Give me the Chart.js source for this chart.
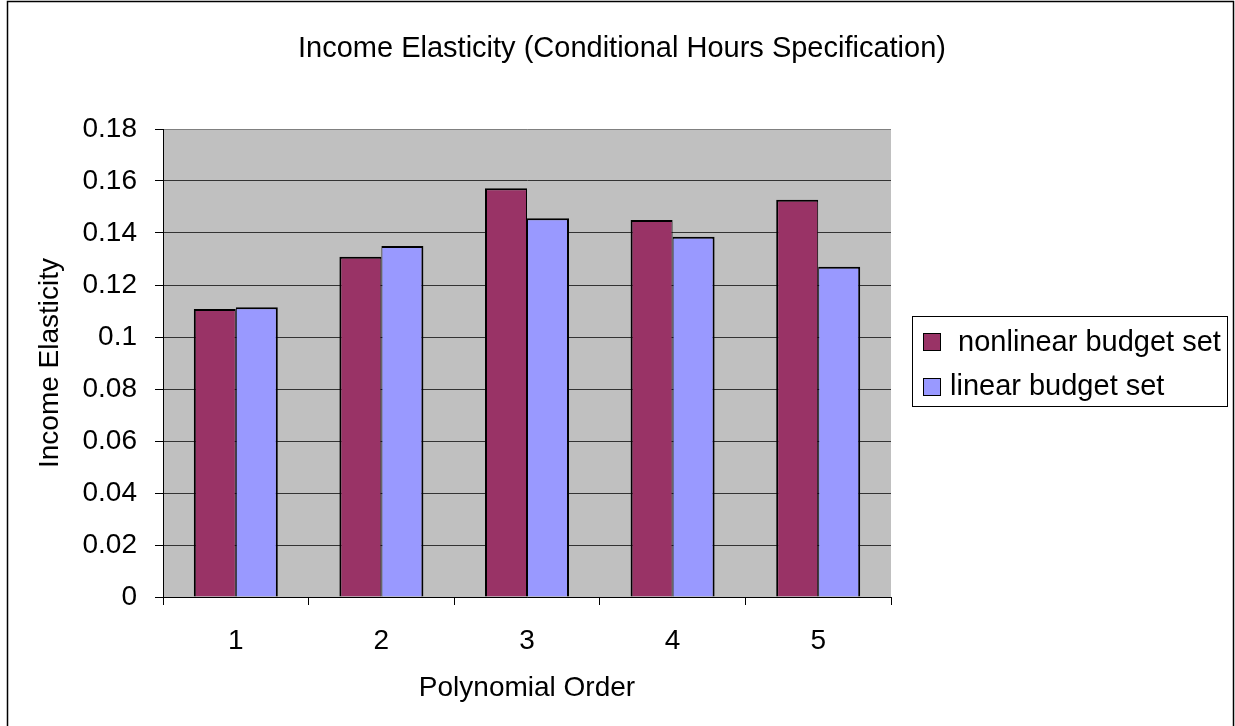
<!DOCTYPE html>
<html>
<head>
<meta charset="utf-8">
<title>Income Elasticity (Conditional Hours Specification)</title>
<script src="https://cdn.jsdelivr.net/npm/chart.js@4/dist/chart.umd.min.js"></script>
<style>
  html, body { margin: 0; padding: 0; background: #ffffff; }
  #wrap { width: 1235px; height: 726px; }
</style>
</head>
<body>
<div id="wrap"><canvas id="chart" width="1235" height="726"></canvas></div>
<script>
// Chart text
const chartTitle = 'Income Elasticity (Conditional Hours Specification)';
const xTitle = 'Polynomial Order';
const yTitle = 'Income Elasticity';

// Categories (polynomial order)
const categories = ['1', '2', '3', '4', '5'];

// Series
const seriesNames = [' nonlinear budget set', 'linear budget set'];
const nonlinearValues = [0.1108, 0.1309, 0.1572, 0.1450, 0.1528];
const linearValues = [0.1114, 0.1350, 0.1457, 0.1386, 0.1270];

// Value axis ticks
const yTickValues = [0, 0.02, 0.04, 0.06, 0.08, 0.1, 0.12, 0.14, 0.16, 0.18];
const yTickLabels = ['0', '0.02', '0.04', '0.06', '0.08', '0.1', '0.12', '0.14', '0.16', '0.18'];

const FONT = "'Liberation Sans', Arial, sans-serif";
const FONT_SIZE = 28;
const BIG_FONT_SIZE = 29;
const colors = ['#993366', '#9999FF'];

// Gray plot area, outer frame, title and legend box
const decorations = {
  id: 'decorations',
  beforeDraw(chart) {
    const { ctx, chartArea: a } = chart;
    ctx.save();
    ctx.fillStyle = '#ffffff';
    ctx.fillRect(0, 0, chart.width, chart.height);
    ctx.fillStyle = '#C0C0C0';
    ctx.fillRect(a.left, a.top, a.right - a.left, a.bottom - a.top);
    ctx.restore();
  },
  afterDraw(chart) {
    const { ctx } = chart;
    ctx.save();
    // outer frame
    ctx.strokeStyle = '#000000';
    ctx.lineWidth = 1.5;
    ctx.strokeRect(7.5, 1.5, 1226, 760);

    // title
    ctx.fillStyle = '#000000';
    ctx.font = BIG_FONT_SIZE + 'px ' + FONT;
    ctx.textAlign = 'center';
    ctx.textBaseline = 'middle';
    ctx.fillText(chartTitle, 622, 49);

    // legend
    ctx.lineWidth = 1;
    ctx.strokeStyle = '#000000';
    ctx.strokeRect(912.5, 316.5, 315, 90);
    ctx.textAlign = 'left';
    ctx.textBaseline = 'alphabetic';
    const rows = [{ sy: 333, ty: 351 }, { sy: 378, ty: 395 }];
    chart.data.datasets.forEach((ds, i) => {
      const r = rows[i];
      ctx.fillStyle = ds.backgroundColor;
      ctx.fillRect(923, r.sy, 18, 18);
      ctx.strokeRect(923.5, r.sy + 0.5, 17, 17);
      ctx.fillStyle = '#000000';
      ctx.fillText(ds.label, 950, r.ty);
    });
    ctx.restore();
  }
};

new Chart(document.getElementById('chart'), {
  type: 'bar',
  data: {
    labels: categories,
    datasets: [
      {
        label: seriesNames[0],
        data: nonlinearValues,
        backgroundColor: colors[0],
        borderColor: '#000000',
        borderWidth: { top: 2, left: 2, right: 1, bottom: 0 },
        borderSkipped: false
      },
      {
        label: seriesNames[1],
        data: linearValues,
        backgroundColor: colors[1],
        borderColor: '#000000',
        borderWidth: { top: 2, left: 1, right: 2, bottom: 0 },
        borderSkipped: false
      }
    ]
  },
  options: {
    responsive: false,
    animation: false,
    devicePixelRatio: 1,
    layout: { padding: { left: 0, right: 344, top: 129, bottom: 0 } },
    datasets: { bar: { categoryPercentage: 0.577, barPercentage: 1.0 } },
    plugins: {
      legend: { display: false },
      title: { display: false },
      tooltip: { enabled: false }
    },
    scales: {
      x: {
        afterFit(scale) { scale.height = 129; },
        grid: {
          offset: true,
          drawOnChartArea: true,
          color: (c) => (c.index === categories.length ? '#808080' : 'rgba(0,0,0,0)'),
          lineWidth: (c) => (c.index === categories.length ? 2 : 1),
          tickColor: '#000000',
          tickWidth: 1,
          tickLength: 8
        },
        border: { display: true, color: '#000000', width: 1 },
        ticks: {
          color: '#000000',
          font: { family: FONT, size: FONT_SIZE },
          padding: 19,
          maxRotation: 0
        },
        title: {
          display: true,
          text: xTitle,
          color: '#000000',
          font: { family: FONT, size: FONT_SIZE },
          padding: { top: 0, bottom: 21 }
        }
      },
      y: {
        min: 0,
        max: 0.18,
        afterFit(scale) { scale.width = 163; },
        afterBuildTicks(scale) {
          scale.ticks = yTickValues.map((v) => ({ value: v }));
        },
        grid: {
          color: (c) => (c.tick && c.tick.value === 0.18 ? '#808080' : '#333333'),
          tickColor: '#000000',
          tickLength: 8,
          lineWidth: 1
        },
        border: { display: true, color: '#000000', width: 1 },
        ticks: {
          color: '#000000',
          font: { family: FONT, size: FONT_SIZE },
          padding: 18,
          callback: (value) => {
            const i = yTickValues.findIndex((v) => Math.abs(v - value) < 1e-9);
            return i >= 0 ? yTickLabels[i] : '';
          }
        },
        title: {
          display: true,
          text: yTitle,
          color: '#000000',
          font: { family: FONT, size: FONT_SIZE },
          padding: { top: 33, bottom: 0 }
        }
      }
    }
  },
  plugins: [decorations]
});
</script>
</body>
</html>
